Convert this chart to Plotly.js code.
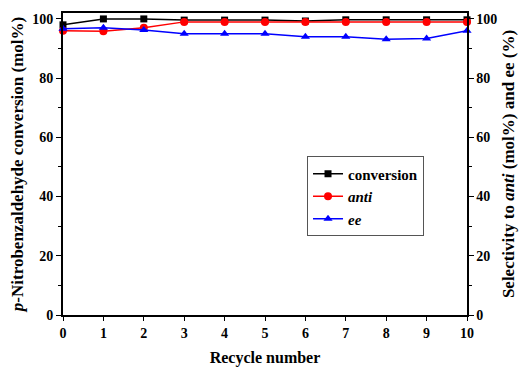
<!DOCTYPE html>
<html>
<head>
<meta charset="utf-8">
<script src="https://cdn.plot.ly/plotly-3.0.1.min.js"></script>
<style>html,body{margin:0;padding:0;background:#fff}#chart{width:523px;height:368px}</style>
</head>
<body>
<div id="chart"></div>
<script>
var recycle = [0, 1, 2, 3, 4, 5, 6, 7, 8, 9, 10];
var conversion = [98, 100, 100, 99.6, 99.6, 99.6, 99.3, 99.7, 99.7, 99.7, 99.7];
var anti = [96, 95.8, 97, 99, 99, 99, 99, 99, 99, 99, 99];
var ee = [96.7, 97, 96.3, 95, 95, 95, 94, 94, 93.1, 93.4, 96];

var fam = 'Times New Roman';

var traces = [
  {x: recycle, y: conversion, name: '<b>conversion</b>', type: 'scatter', mode: 'lines+markers',
   line: {color: '#000', width: 1.5}, marker: {symbol: 'square', size: 7, color: '#000'}, cliponaxis: false},
  {x: recycle, y: anti, name: '<b><i>anti</i></b>', type: 'scatter', mode: 'lines+markers', yaxis: 'y2',
   line: {color: '#ff0000', width: 1.5}, marker: {symbol: 'circle', size: 8, color: '#ff0000'}, cliponaxis: false},
  {x: recycle, y: ee, name: '<b><i>ee</i></b>', type: 'scatter', mode: 'lines+markers', yaxis: 'y2',
   line: {color: '#0000ff', width: 1.5}, marker: {symbol: 'triangle-up', size: 8, color: '#0000ff'}, cliponaxis: false}
];

var tickfont = {family: fam, size: 14, color: '#000', weight: 'bold'};

var layout = {
  width: 523, height: 368,
  margin: {l: 63, r: 56, t: 13, b: 53},
  paper_bgcolor: '#fff', plot_bgcolor: '#fff',
  font: {family: fam, size: 14, color: '#000'},
  showlegend: true,
  legend: {x: 0.604, y: 0.525, xanchor: 'left', yanchor: 'top', bgcolor: '#fff',
           bordercolor: '#555', borderwidth: 1, font: {family: fam, size: 15, color: '#000'},
           tracegroupgap: 0, itemwidth: 30},
  xaxis: {range: [0, 10], dtick: 1, tick0: 0, showgrid: false, zeroline: false,
          showline: true, linecolor: '#000', linewidth: 2, mirror: true,
          ticks: 'outside', ticklen: 4, tickwidth: 1, tickcolor: '#000',
          tickfont: tickfont,
          title: {text: '<b>Recycle number</b>', font: {family: fam, size: 16, color: '#000'}, standoff: 12}},
  yaxis: {range: [0, 102], dtick: 20, tick0: 0, showgrid: false, zeroline: false,
          showline: true, linecolor: '#000', linewidth: 2,
          ticks: 'outside', ticklen: 5, tickwidth: 1, tickcolor: '#000',
          minor: {dtick: 10, ticks: 'outside', ticklen: 3, tickcolor: '#000', showgrid: false},
          tickfont: tickfont,
          title: {text: '<b><i>p</i>-Nitrobenzaldehyde conversion (mol%)</b>', font: {family: fam, size: 17, color: '#000'}, standoff: 4}},
  yaxis2: {range: [0, 102], dtick: 20, tick0: 0, overlaying: 'y', side: 'right', showgrid: false, zeroline: false,
          showline: true, linecolor: '#000', linewidth: 1.5,
          ticks: 'outside', ticklen: 5, tickwidth: 1, tickcolor: '#000',
          minor: {dtick: 10, ticks: 'outside', ticklen: 3, tickcolor: '#000', showgrid: false},
          tickfont: tickfont,
          title: {text: '<b>Selectivity to <i>anti</i> (mol%) and ee (%)</b>', font: {family: fam, size: 17, color: '#000'}, standoff: 6}}
};

Plotly.newPlot('chart', traces, layout, {displayModeBar: false, staticPlot: true});
</script>
</body>
</html>
